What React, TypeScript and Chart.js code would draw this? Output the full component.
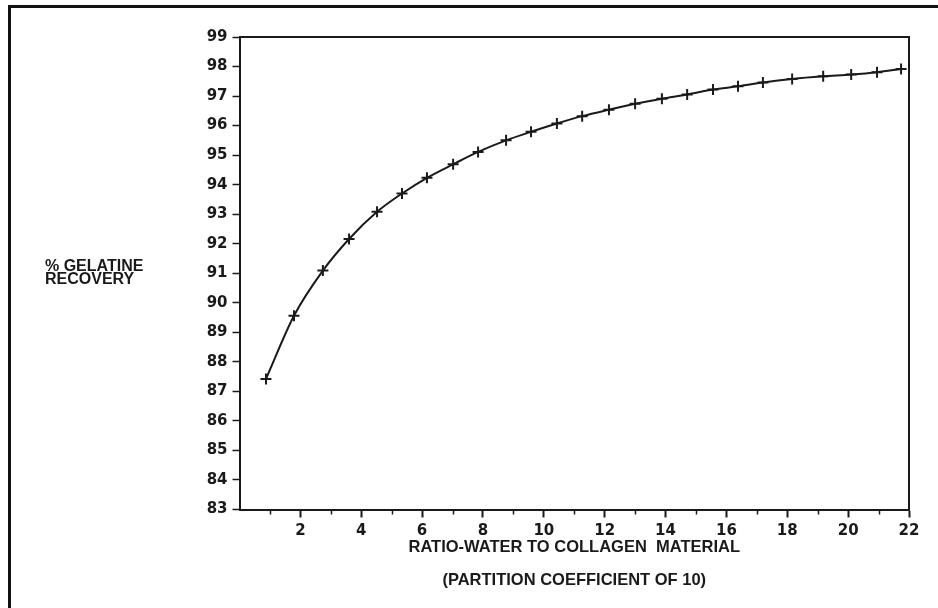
import React, { useEffect, useRef } from 'react';
import { Chart, registerables } from 'chart.js';

Chart.register(...registerables);

// Ratio water : collagen material (x)
const ratioValues = [
  0.87, 1.79, 2.74, 3.6, 4.52, 5.34, 6.16, 7.02, 7.84, 8.76, 9.58, 10.43, 11.26,
  12.14, 13.0, 13.88, 14.71, 15.56, 16.38, 17.2, 18.16, 19.18, 20.1, 20.95, 21.74,
];
// % gelatine recovery (y)
const recoveryValues = [
  87.42, 89.56, 91.09, 92.16, 93.08, 93.7, 94.23, 94.69, 95.11, 95.5, 95.79, 96.07, 96.32,
  96.54, 96.74, 96.91, 97.05, 97.22, 97.33, 97.46, 97.58, 97.67, 97.73, 97.81, 97.92,
];

const xMin = 0;
const xMax = 22;
const yMin = 83;
const yMax = 99;
const xMinorTicks = [1, 3, 5, 7, 9, 11, 13, 15, 17, 19, 21];

const xTitleLines = ['RATIO-WATER TO COLLAGEN  MATERIAL', '(PARTITION COEFFICIENT OF 10)'];
const yTitleLines = ['% GELATINE', 'RECOVERY'];

const INK = '#1a1a1a';
const TICK_FONT = { family: '"DejaVu Sans", sans-serif', size: 15, weight: 'bold' as const };
const TITLE_FONT_FAMILY = '"Liberation Sans", Arial, sans-serif';

const framePlugin = {
  id: 'framePlugin',
  beforeDraw(chart: any) {
    const { ctx, width, height } = chart;
    ctx.save();
    ctx.fillStyle = '#ffffff';
    ctx.fillRect(0, 0, width, height);
    ctx.fillStyle = '#111111';
    ctx.fillRect(8, 5, 3, height - 5);
    ctx.fillRect(8, 5, width - 8, 3);
    ctx.restore();
  },
  afterDraw(chart: any) {
    const { ctx, chartArea: a, scales } = chart;
    ctx.save();
    ctx.strokeStyle = INK;
    ctx.lineWidth = 2;
    ctx.beginPath();
    ctx.moveTo(a.left, a.top);
    ctx.lineTo(a.right, a.top);
    ctx.lineTo(a.right, a.bottom);
    ctx.stroke();
    ctx.lineWidth = 1.5;
    ctx.beginPath();
    for (const v of xMinorTicks) {
      const px = Math.round(scales.x.getPixelForValue(v)) + 0.5;
      ctx.moveTo(px, a.bottom);
      ctx.lineTo(px, a.bottom + 5);
    }
    ctx.stroke();
    ctx.restore();
  },
};

export default function App() {
  const canvasRef = useRef<HTMLCanvasElement | null>(null);

  useEffect(() => {
    const canvas = canvasRef.current;
    if (!canvas) return;
    const chart = new Chart(canvas, {
      type: 'line',
      data: {
        datasets: [
          {
            data: ratioValues.map((x, i) => ({ x, y: recoveryValues[i] })),
            borderColor: INK,
            borderWidth: 2,
            tension: 0.4,
            cubicInterpolationMode: 'monotone',
            pointStyle: 'cross',
            pointRadius: 5.5,
            pointBorderWidth: 2,
            pointBorderColor: INK,
            pointBackgroundColor: INK,
            fill: false,
          },
        ],
      },
      options: {
        responsive: false,
        animation: false,
        events: [],
        layout: { padding: { top: 37, right: 29, bottom: 0, left: 169.5 } },
        plugins: {
          legend: { display: false },
          tooltip: { enabled: false },
          title: { display: false },
        },
        scales: {
          x: {
            type: 'linear',
            min: xMin,
            max: xMax,
            afterFit: (s: any) => {
              s.height = 98.5;
            },
            border: { display: true, color: INK, width: 2 },
            grid: {
              drawOnChartArea: false,
              drawTicks: true,
              tickLength: 8,
              tickWidth: 2,
              tickColor: (c: any) =>
                c.tick && c.tick.value > 0 && c.tick.value % 2 === 0 ? INK : 'rgba(0,0,0,0)',
            },
            ticks: {
              stepSize: 1,
              autoSkip: false,
              maxRotation: 0,
              padding: 5,
              color: INK,
              font: TICK_FONT,
              callback: (v: any) => (Number(v) > 0 && Number(v) % 2 === 0 ? String(v) : ''),
            },
            title: {
              display: true,
              text: xTitleLines,
              color: INK,
              font: { family: TITLE_FONT_FAMILY, size: 16.5, weight: 'bold', lineHeight: '33px' },
              padding: { top: 0, bottom: 11.5 },
            },
          },
          y: {
            type: 'linear',
            min: yMin,
            max: yMax,
            afterFit: (s: any) => {
              s.width = 70;
            },
            border: { display: true, color: INK, width: 2 },
            grid: {
              drawOnChartArea: false,
              drawTicks: true,
              tickLength: 7,
              tickWidth: 1.5,
              tickColor: INK,
            },
            ticks: {
              stepSize: 1,
              autoSkip: false,
              padding: 5,
              color: INK,
              font: TICK_FONT,
            },
          },
        },
      },
      plugins: [framePlugin],
    });
    return () => chart.destroy();
  }, []);

  return (
    <div style={{ position: 'absolute', left: 0, top: 0, width: 938, height: 608, background: '#fff' }}>
      <canvas ref={canvasRef} width={938} height={608} style={{ display: 'block' }} />
      <div
        style={{
          position: 'absolute',
          left: 45,
          top: 259,
          fontFamily: TITLE_FONT_FAMILY,
          fontWeight: 'bold',
          fontSize: 16,
          lineHeight: '13px',
          color: INK,
          whiteSpace: 'pre',
        }}
      >
        {yTitleLines.map((t) => (
          <div key={t}>{t}</div>
        ))}
      </div>
    </div>
  );
}
